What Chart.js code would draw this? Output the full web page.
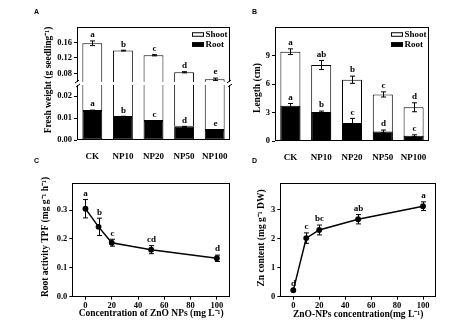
<!DOCTYPE html>
<html>
<head>
<meta charset="utf-8">
<script src="https://cdn.jsdelivr.net/npm/chart.js@4.4.1/dist/chart.umd.min.js"></script>
<style>
  html, body { margin: 0; padding: 0; background: #fff; }
  #fig { position: relative; width: 474px; height: 331px; overflow: hidden; background: #fff; }
  .panel { position: absolute; }
  .tag { position: absolute; font: bold 7px "Liberation Sans", Arial, sans-serif; color: #000; }
</style>
</head>
<body>
<div id="fig">
  <div class="panel" style="left:0;top:0;width:237px;height:165px"><canvas id="cA"></canvas></div>
  <div class="panel" style="left:237px;top:0;width:237px;height:165px"><canvas id="cB"></canvas></div>
  <div class="panel" style="left:0;top:165px;width:237px;height:166px"><canvas id="cC"></canvas></div>
  <div class="panel" style="left:237px;top:165px;width:237px;height:166px"><canvas id="cD"></canvas></div>
  <div class="tag" style="left:34px;top:8px">A</div>
  <div class="tag" style="left:252px;top:8px">B</div>
  <div class="tag" style="left:34px;top:157px">C</div>
  <div class="tag" style="left:252px;top:157px">D</div>
</div>
<script>
// ---- data ----
const groups = ["CK", "NP10", "NP20", "NP50", "NP100"];

// A: fresh weight (g seedling-1), broken y axis
const freshShoot = [0.158, 0.139, 0.127, 0.083, 0.065];
const freshShootErr = [0.006, 0.001, 0.0015, 0.0015, 0.003];
const freshShootSig = ["a", "b", "c", "d", "e"];
const freshRoot = [0.0132, 0.0105, 0.0086, 0.006, 0.0045];
const freshRootErr = [0.0004, 0.0003, 0.0002, 0.0002, 0.0002];
const freshRootSig = ["a", "b", "c", "d", "e"];
const freshLowTicks = [0, 0.01, 0.02];
const freshHighTicks = [0.08, 0.12, 0.16];
const breakLow = 0.0257;   // top of the lower segment
const breakHigh = 0.054;   // bottom of the upper segment
const freshTop = 0.2;

// B: length (cm)
const lengthShoot = [9.4, 8.0, 6.45, 4.9, 3.55];
const lengthShootErr = [0.3, 0.48, 0.38, 0.27, 0.47];
const lengthShootSig = ["a", "ab", "b", "c", "d"];
const lengthRoot = [3.7, 3.05, 1.9, 1.0, 0.55];
const lengthRootErr = [0.25, 0.1, 0.48, 0.15, 0.1];
const lengthRootSig = ["a", "b", "c", "d", "c"];
const lengthTicks = [0, 3, 6, 9];

// C and D: against ZnO NP concentration (mg L-1)
const conc = [0, 10, 20, 50, 100];
const concTicks = [0, 20, 40, 60, 80, 100];
const tpf = [0.305, 0.242, 0.187, 0.163, 0.133];
const tpfErr = [0.032, 0.03, 0.012, 0.014, 0.011];
const tpfSig = ["a", "b", "c", "cd", "d"];
const tpfTicks = [0, 0.1, 0.2, 0.3];
const zn = [0.22, 2.02, 2.3, 2.67, 3.12];
const znErr = [0.03, 0.18, 0.17, 0.16, 0.15];
const znSig = ["d", "c", "bc", "ab", "a"];
const znTicks = [0, 1, 2, 3];

// ---- helpers ----
const serif = '"Liberation Serif", "Times New Roman", serif';
const tickFont = { family: serif, size: 8.5, weight: "bold" };
const catFont = { family: serif, size: 9, weight: "bold" };

function fixedTicks(list) {
  return s => { s.ticks = list.map(v => ({ value: v })); };
}

function yAxis(extra) {
  return Object.assign({
    type: "linear",
    position: "left",
    border: { display: false },
    grid: { drawOnChartArea: false, tickLength: 3, color: "#000" },
    ticks: { font: tickFont, color: "#000", padding: 2 }
  }, extra);
}

// error bars, significance letters, frame, y title, legend, axis break
const figPlugin = {
  id: "fig",
  afterDatasetsDraw(chart, args, opts) {
    const ctx = chart.ctx;
    ctx.save();
    ctx.strokeStyle = "#000";
    ctx.fillStyle = "#000";
    ctx.lineWidth = 1;
    ctx.font = "bold 9px " + serif;
    ctx.textAlign = "center";
    ctx.textBaseline = "bottom";
    chart.data.datasets.forEach((ds, i) => {
      if (!ds.errors) return;
      const meta = chart.getDatasetMeta(i);
      const ys = chart.scales[meta.yAxisID];
      meta.data.forEach((el, j) => {
        const raw = ds.data[j];
        const v = Array.isArray(raw) ? raw[1] : (typeof raw === "object" ? raw.y : raw);
        const e = ds.errors[j];
        const x = Math.round(el.x) + 0.5;
        const y1 = ys.getPixelForValue(v + e);
        const y2 = ys.getPixelForValue(v - e);
        const cap = opts.cap || 2.5;
        ctx.beginPath();
        ctx.moveTo(x, y1); ctx.lineTo(x, y2);
        ctx.moveTo(x - cap, y1); ctx.lineTo(x + cap, y1);
        ctx.moveTo(x - cap, y2); ctx.lineTo(x + cap, y2);
        ctx.stroke();
        if (ds.sig) ctx.fillText(ds.sig[j], x, y1 - 1.5);
      });
    });
    ctx.restore();
  },
  afterDraw(chart, args, opts) {
    const ctx = chart.ctx;
    const a = chart.chartArea;
    ctx.save();
    ctx.strokeStyle = "#000";
    ctx.lineWidth = 1;
    ctx.strokeRect(Math.round(a.left) + 0.5, Math.round(a.top) + 0.5,
                   Math.round(a.width) - 1, Math.round(a.height) - 1);

    if (opts.breakAxis) {
      const yb = chart.scales[opts.breakAxis].top;
      ctx.fillStyle = "#fff";
      ctx.fillRect(a.left - 3, yb - 1.5, a.width + 6, 3);
      ctx.beginPath();
      [a.left + 0.5, a.right - 0.5].forEach(x => {
        ctx.moveTo(x - 2.5, yb - 0.5); ctx.lineTo(x + 1.5, yb - 3.5);
        ctx.moveTo(x - 1.5, yb + 3.5); ctx.lineTo(x + 2.5, yb + 0.5);
      });
      ctx.stroke();
    }

    if (opts.legend) {
      const L = opts.legend;
      ctx.font = "bold " + L.size + "px " + serif;
      ctx.textAlign = "left";
      ctx.textBaseline = "middle";
      chart.data.datasets.filter(d => d.legend).forEach((d, k) => {
        const bx = a.right - L.right;
        const cy = a.top + L.top + k * L.gap;
        ctx.fillStyle = d.backgroundColor;
        ctx.fillRect(bx, cy - L.h / 2, L.w, L.h);
        ctx.strokeStyle = "#000";
        ctx.strokeRect(bx + 0.5, cy - L.h / 2 + 0.5, L.w - 1, L.h - 1);
        ctx.fillStyle = "#000";
        ctx.fillText(d.label, bx + L.w + 1.5, cy);
      });
    }

    if (opts.ytitle) {
      ctx.fillStyle = "#000";
      ctx.font = "bold 9.5px " + serif;
      ctx.textAlign = "center";
      ctx.textBaseline = "middle";
      ctx.translate(opts.ytitle.x, opts.ytitle.y);
      ctx.rotate(-Math.PI / 2);
      ctx.fillText(opts.ytitle.text, 0, 0);
    }
    ctx.restore();
  }
};

Chart.defaults.animation = false;
Chart.defaults.responsive = true;
Chart.defaults.maintainAspectRatio = false;
Chart.defaults.plugins.legend.display = false;
Chart.defaults.plugins.tooltip.enabled = false;
Chart.defaults.color = "#000";

const barBase = {
  barPercentage: 0.65,
  categoryPercentage: 1,
  grouped: false,
  borderColor: "#000",
  borderWidth: 1
};

const catAxis = {
  type: "category",
  grid: { display: false },
  border: { display: false },
  ticks: { font: catFont, color: "#000", padding: 3, autoSkip: false, maxRotation: 0 }
};

// ---- A ----
new Chart(document.getElementById("cA"), {
  type: "bar",
  data: {
    labels: groups,
    datasets: [
      Object.assign({}, barBase, {
        label: "Shoot", legend: true, yAxisID: "yHigh", order: 2,
        backgroundColor: "#fff", borderSkipped: "start",
        data: freshShoot.map(v => [breakHigh, v]),
        errors: freshShootErr, sig: freshShootSig
      }),
      Object.assign({}, barBase, {
        label: "Root", legend: true, yAxisID: "yLow", order: 1,
        backgroundColor: "#000", borderSkipped: false,
        data: freshRoot.map(v => [0, v]),
        errors: freshRootErr, sig: freshRootSig
      }),
      Object.assign({}, barBase, {
        label: "Shoot (lower)", yAxisID: "yLow", order: 3,
        backgroundColor: "#fff", borderSkipped: "end",
        data: freshRoot.map((v, i) => [v, Math.min(freshShoot[i], breakLow)])
      })
    ]
  },
  options: {
    layout: { padding: { left: 0, top: 27, right: 7, bottom: 0 } },
    scales: {
      x: Object.assign({}, catAxis, { afterFit: s => { s.height = 25; } }),
      yLow: yAxis({
        stack: "fw", stackWeight: 1, min: 0, max: breakLow,
        afterBuildTicks: fixedTicks(freshLowTicks),
        ticks: { font: tickFont, color: "#000", padding: 2, callback: v => v.toFixed(2) },
        afterFit: s => { s.width = 77; }
      }),
      yHigh: yAxis({
        stack: "fw", stackWeight: 1, min: breakHigh, max: freshTop,
        afterBuildTicks: fixedTicks(freshHighTicks),
        ticks: { font: tickFont, color: "#000", padding: 2, callback: v => v.toFixed(2) },
        afterFit: s => { s.width = 77; }
      })
    },
    plugins: {
      fig: {
        breakAxis: "yLow",
        legend: { right: 38, top: 7.5, gap: 10, w: 12, h: 4.5, size: 9 },
        ytitle: { text: "Fresh weight (g seedling\u207B\u00B9)", x: 49, y: 80 }
      }
    }
  },
  plugins: [figPlugin]
});

// ---- B ----
new Chart(document.getElementById("cB"), {
  type: "bar",
  data: {
    labels: groups,
    datasets: [
      Object.assign({}, barBase, {
        label: "Shoot", legend: true, order: 2,
        backgroundColor: "#fff",
        data: lengthShoot,
        errors: lengthShootErr, sig: lengthShootSig
      }),
      Object.assign({}, barBase, {
        label: "Root", legend: true, order: 1,
        backgroundColor: "#000",
        data: lengthRoot,
        errors: lengthRootErr, sig: lengthRootSig
      })
    ]
  },
  options: {
    layout: { padding: { left: 0, top: 27, right: 45, bottom: 0 } },
    scales: {
      x: Object.assign({}, catAxis, { afterFit: s => { s.height = 24; } }),
      y: yAxis({
        min: 0, max: 12,
        afterBuildTicks: fixedTicks(lengthTicks),
        afterFit: s => { s.width = 38; }
      })
    },
    plugins: {
      fig: {
        legend: { right: 38, top: 7.5, gap: 10, w: 12, h: 4.5, size: 9 },
        ytitle: { text: "Length (cm)", x: 21, y: 88 }
      }
    }
  },
  plugins: [figPlugin]
});

// ---- C and D ----
function lineChart(id, ys, errs, sig, yTicks, yMax, yFmt, geo, xTitle, yTitle) {
  return new Chart(document.getElementById(id), {
    type: "line",
    data: {
      datasets: [{
        data: conc.map((c, i) => ({ x: c, y: ys[i] })),
        borderColor: "#000",
        borderWidth: 1.5,
        pointRadius: 2.2,
        pointBackgroundColor: "#000",
        pointBorderColor: "#000",
        tension: 0,
        errors: errs,
        sig: sig
      }]
    },
    options: {
      layout: { padding: { left: 0, top: 17.7, right: geo.right, bottom: geo.bottom } },
      scales: {
        x: {
          type: "linear", min: -10, max: 110,
          afterBuildTicks: fixedTicks(concTicks),
          border: { display: false },
          grid: { drawOnChartArea: false, tickLength: 3, color: "#000" },
          ticks: { font: tickFont, color: "#000", padding: 1 },
          title: { display: true, text: xTitle, font: { family: serif, size: 9.5, weight: "bold" }, color: "#000", padding: { top: 0, bottom: 4 } },
          afterFit: s => { s.height = geo.xh; }
        },
        y: yAxis({
          min: 0, max: yMax,
          afterBuildTicks: fixedTicks(yTicks),
          ticks: { font: tickFont, color: "#000", padding: 2, callback: yFmt },
          afterFit: s => { s.width = geo.left; }
        })
      },
      plugins: {
        fig: { cap: 2.5, ytitle: { text: yTitle, x: geo.tx, y: geo.ty } }
      }
    },
    plugins: [figPlugin]
  });
}

lineChart("cC", tpf, tpfErr, tpfSig, tpfTicks, 0.395, v => v.toFixed(1),
  { left: 72.3, right: 7, bottom: 7.6, xh: 26.7, tx: 46, ty: 72 },
  "Concentration of ZnO NPs (mg L\u207B\u00B9)", "Root activity TPF (mg g\u207B\u00B9 h\u207B\u00B9)");

lineChart("cD", zn, znErr, znSig, znTicks, 3.93, v => String(v),
  { left: 43.3, right: 38, bottom: 6.6, xh: 27.7, tx: 24.3, ty: 73 },
  "ZnO-NPs concentration(mg L\u207B\u00B9)", "Zn content (mg g\u207B\u00B9 DW)");
</script>
</body>
</html>
